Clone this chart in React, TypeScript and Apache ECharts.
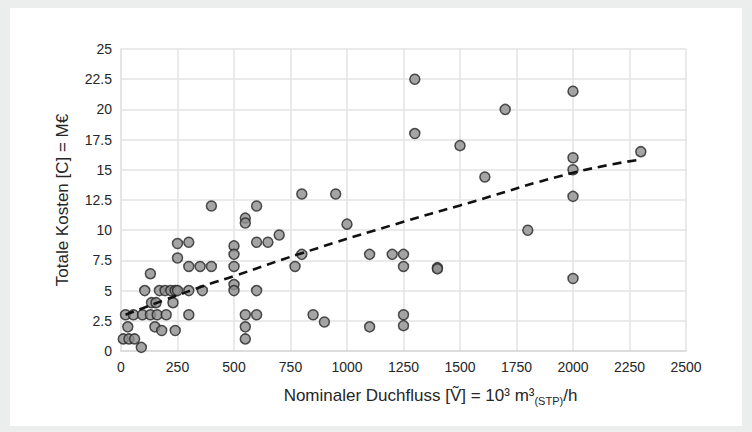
import React, { useEffect, useRef } from "react";
import * as echarts from "echarts";

const xTicks = { min: 0, max: 2500, interval: 250 };
const yTicks = { min: 0, max: 25, interval: 2.5 };

const flowValues = [
  10, 35, 60, 90, 30, 150, 180, 240,
  20, 55, 95, 130, 160, 200, 300,
  135, 155, 230,
  105, 170, 195, 220, 240, 250, 300, 360,
  130, 250, 300, 250, 300, 350, 400, 400,
  500, 500, 500, 500, 500,
  550, 550, 550, 550, 550,
  600, 600, 600, 600,
  650, 700, 770, 800, 800, 950, 1000, 850, 900,
  1100, 1200, 1250, 1250, 1400, 1400, 1250, 1250, 1100,
  1300, 1300, 1500, 1700, 1610, 1800,
  2000, 2000, 2000, 2000, 2000, 2300,
];
const costValues = [
  1, 1, 1, 0.3, 2, 2, 1.7, 1.7,
  3, 3, 3, 3, 3, 3, 3,
  4, 4, 4,
  5, 5, 5, 5, 5, 5, 5, 5,
  6.4, 8.9, 9, 7.7, 7, 7, 7, 12,
  8.7, 8, 7, 5.5, 5,
  11, 10.6, 3, 2, 1,
  12, 9, 5, 3,
  9, 9.6, 7, 8, 13, 13, 10.5, 3, 2.4,
  8, 8, 8, 7, 6.9, 6.8, 3, 2.1, 2,
  22.5, 18, 17, 20, 14.4, 10,
  21.5, 16, 15, 12.8, 6, 16.5,
];

const trendX = [20, 190, 400, 500, 800, 1250, 1500, 2000, 2300];
const trendY = [3.0, 4.2, 5.6, 6.2, 8.1, 10.7, 12.05, 14.75, 15.85];

const xName = "Nominaler Duchfluss [Ṽ] = 10³ m³{sub|(STP)}/h";
const yName = "Totale Kosten [C] = M€";

export default function App() {
  const ref = useRef<HTMLDivElement>(null);
  useEffect(() => {
    if (!ref.current) return;
    const chart = echarts.init(ref.current, undefined, { renderer: "svg" });
    const font = "Liberation Sans, Arial, sans-serif";
    const labelColor = "#262626";
    chart.setOption({
      animation: false,
      backgroundColor: "transparent",
      grid: { left: 121, right: 66, top: 49, bottom: 81 },
      xAxis: {
        type: "value",
        min: xTicks.min,
        max: xTicks.max,
        interval: xTicks.interval,
        name: xName,
        nameLocation: "middle",
        nameGap: 34,
        nameTextStyle: {
          color: labelColor,
          fontSize: 17,
          fontFamily: font,
          padding: [0, 0, 0, 54],
          rich: {
            sub: { fontSize: 11, fontFamily: font, color: labelColor, padding: [10, 0, 0, 0] },
          },
        },
        axisLine: { show: true, lineStyle: { color: "#d9d9d9", width: 1.5 } },
        axisTick: { show: false },
        axisLabel: {
          color: labelColor,
          fontSize: 14,
          fontFamily: font,
          margin: 9,
          formatter: (v: number) => String(v),
        },
        splitLine: { show: true, lineStyle: { color: "#e3e3e3", width: 1.5 } },
      },
      yAxis: {
        type: "value",
        min: yTicks.min,
        max: yTicks.max,
        interval: yTicks.interval,
        name: yName,
        nameLocation: "middle",
        nameGap: 50,
        nameTextStyle: { color: labelColor, fontSize: 17, fontFamily: font },
        axisLine: { show: true, lineStyle: { color: "#e3e3e3", width: 1.5 } },
        axisTick: { show: false },
        axisLabel: {
          color: labelColor,
          fontSize: 14,
          fontFamily: font,
          margin: 9,
          formatter: (v: number) => String(v),
        },
        splitLine: { show: true, lineStyle: { color: "#e3e3e3", width: 1.5 } },
      },
      series: [
        {
          type: "scatter",
          data: flowValues.map((x, i) => [x, costValues[i]]),
          symbol: "circle",
          symbolSize: 10,
          itemStyle: { color: "#8f8f8f", borderColor: "#262626", borderWidth: 1.5 },
          z: 2,
        },
        {
          type: "line",
          data: trendX.map((x, i) => [x, trendY[i]]),
          showSymbol: false,
          smooth: true,
          lineStyle: { color: "#111", width: 2.6, type: [9, 6] },
          z: 3,
        },
      ],
    });
    return () => chart.dispose();
  }, []);
  return (
    <div style={{ position: "absolute", left: 0, top: 0, width: 752, height: 432, background: "#eceeed" }}>
      <div style={{ position: "absolute", left: 10, top: 8, width: 732, height: 418, background: "#ffffff" }} />
      <div ref={ref} style={{ position: "absolute", left: 0, top: 0, width: 752, height: 432 }} />
    </div>
  );
}
